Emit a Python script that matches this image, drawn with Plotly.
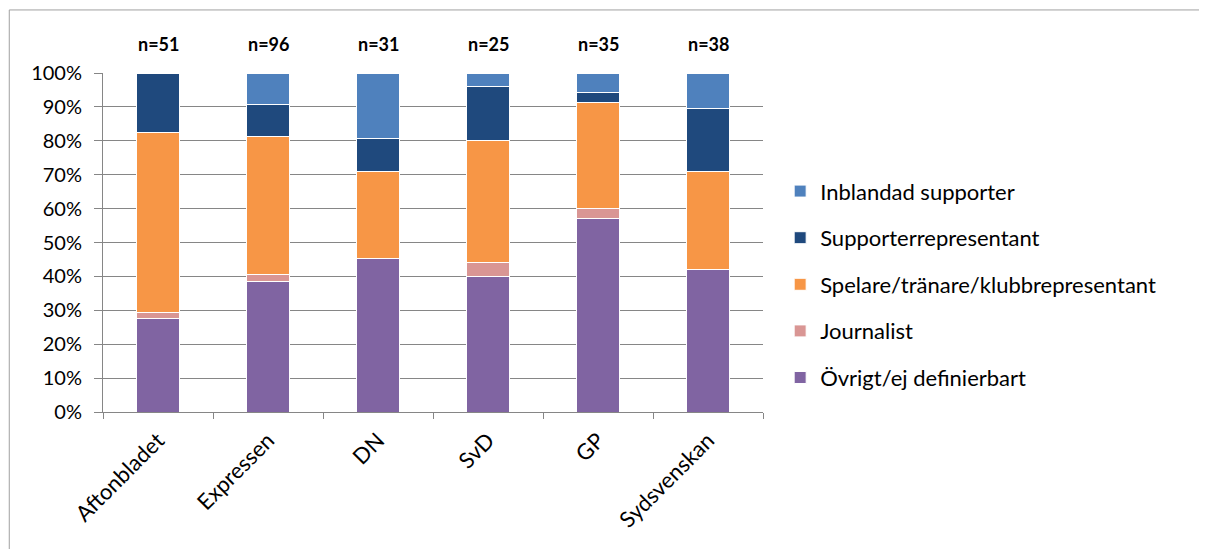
import plotly.graph_objects as go

categories = ["Aftonbladet", "Expressen", "DN", "SvD", "GP", "Sydsvenskan"]
n_labels = ["n=51", "n=96", "n=31", "n=25", "n=35", "n=38"]

ovrigt = [27.5, 38.5, 45.2, 40.0, 57.1, 42.1]
journalist = [2.0, 2.1, 0.0, 4.0, 2.9, 0.0]
spelare = [52.9, 40.6, 25.8, 36.0, 31.4, 28.9]
supporterrep = [17.6, 9.4, 9.7, 16.0, 2.9, 18.4]
inblandad = [0.0, 9.4, 19.3, 4.0, 5.7, 10.6]

series = [
    ("Övrigt/ej definierbart", ovrigt, "#8064A2"),
    ("Journalist", journalist, "#D99694"),
    ("Spelare/tränare/klubbrepresentant", spelare, "#F79646"),
    ("Supporterrepresentant", supporterrep, "#1F497D"),
    ("Inblandad supporter", inblandad, "#4F81BD"),
]

fig = go.Figure()
for i, (name, vals, col) in enumerate(series):
    fig.add_trace(go.Bar(
        x=categories, y=vals, name=name, legendgroup=str(i), legendrank=100 - i,
        marker=dict(color=col, line=dict(color="white", width=1)),
    ))

for c, t in zip(categories, n_labels):
    fig.add_annotation(x=c, y=1.125, xref="x", yref="paper", text="<b>" + t + "</b>",
                       showarrow=False, font=dict(size=18, color="#000000"))

fig.add_shape(type="rect", xref="paper", yref="paper", x0=-0.142, x1=1.662, y0=-0.45, y1=1.186,
              line=dict(color="#A0A0A0", width=1), fillcolor="rgba(0,0,0,0)", layer="below")

fig.update_layout(
    barmode="stack", bargap=0.61,
    width=1207, height=549,
    margin=dict(l=95, r=452, t=65, b=145),
    paper_bgcolor="white", plot_bgcolor="white",
    font=dict(family="Lato, Open Sans, sans-serif", size=20, color="#000000"),
    legend=dict(x=1.026, y=0.713, xanchor="left", yanchor="top", traceorder="grouped",
                tracegroupgap=15, font=dict(size=22), itemwidth=30),
    xaxis=dict(tickangle=-45, showline=True, linecolor="#868686", ticks="outside",
               tickson="boundaries", ticklen=6, tickcolor="#868686", showgrid=False,
               tickfont=dict(size=22), ticklabelstandoff=6),
    yaxis=dict(range=[0, 100], dtick=10, ticksuffix="%", showgrid=True, gridcolor="#868686",
               gridwidth=1, showline=True, linecolor="#868686", ticks="outside", ticklen=8,
               tickcolor="#868686", zeroline=False, tickfont=dict(size=20), ticklabelstandoff=8),
    showlegend=True,
)

fig.write_html("out.html")
